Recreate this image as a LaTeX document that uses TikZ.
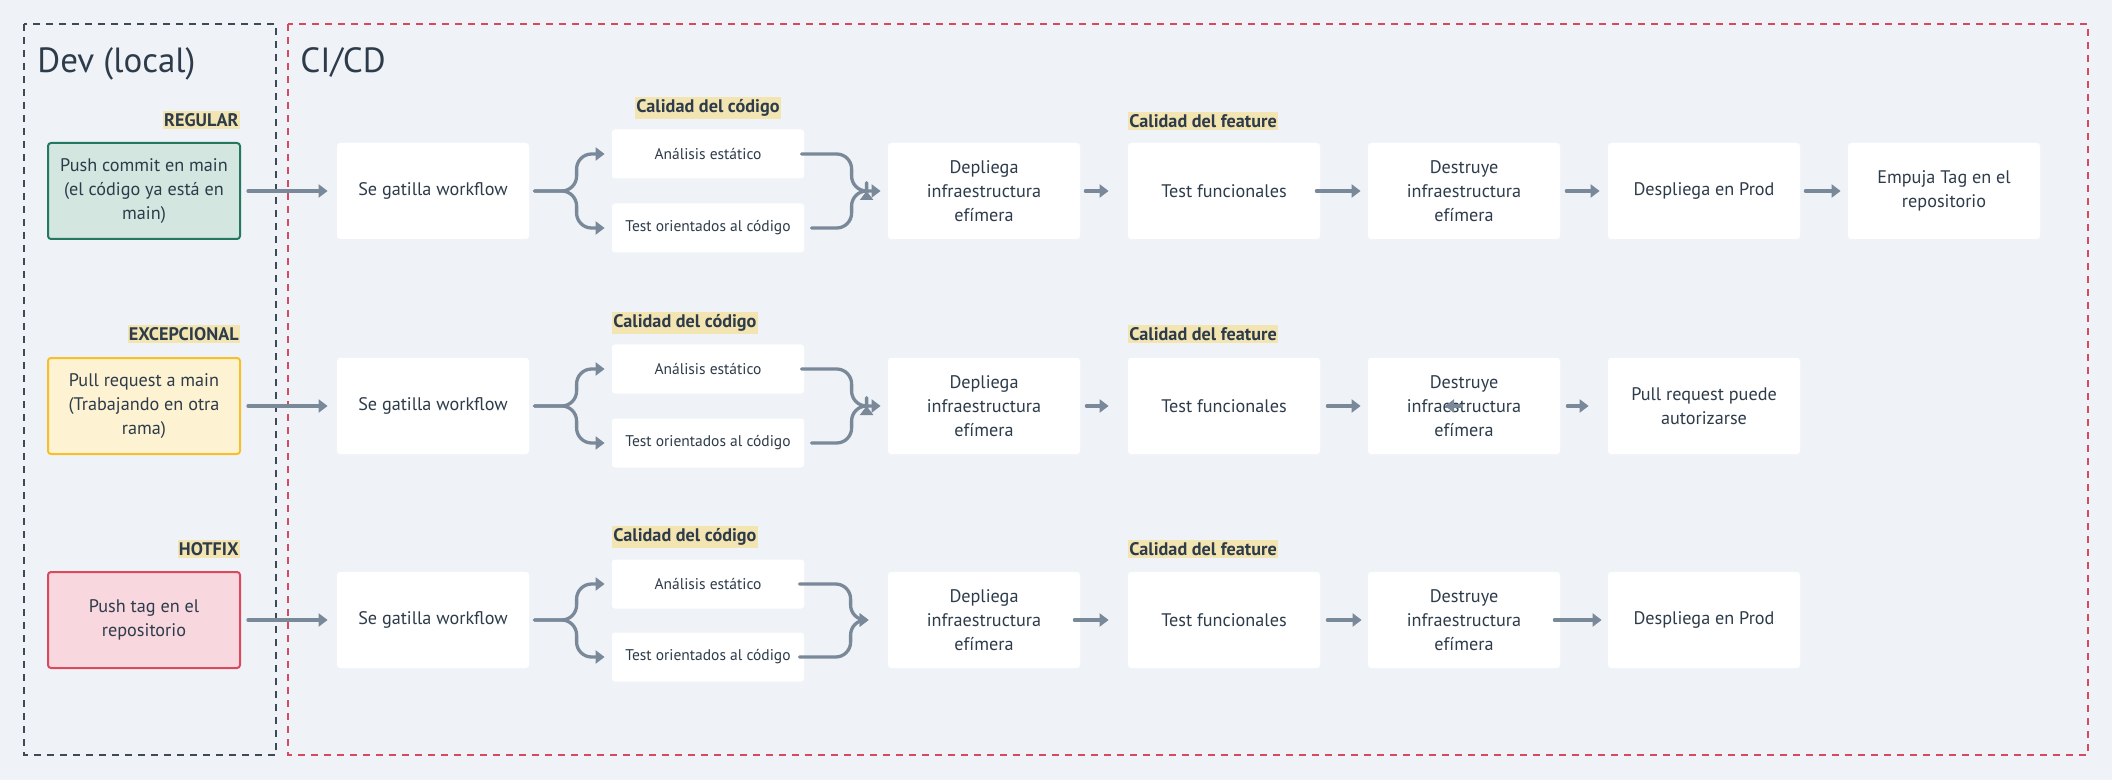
\documentclass[tikz,border=0pt]{standalone}
\usepackage{fontspec}
\setmainfont{PT Sans}
\usetikzlibrary{arrows.meta,calc}
\definecolor{bg}{HTML}{EFF3F7}
\definecolor{txt}{HTML}{2D3B4A}
\definecolor{arrc}{HTML}{7A8999}
\definecolor{hl}{HTML}{F3E5B2}
\definecolor{devline}{HTML}{3F4A56}
\definecolor{ciline}{HTML}{D6495E}
\definecolor{gfill}{HTML}{D3E6E0}
\definecolor{gdraw}{HTML}{23785F}
\definecolor{yfill}{HTML}{FDF2D2}
\definecolor{ydraw}{HTML}{F7C02B}
\definecolor{rfill}{HTML}{F8D8DE}
\definecolor{rdraw}{HTML}{D94A5E}
\begin{document}
\begin{tikzpicture}[x=0.5pt,y=-0.5pt,
  box/.style={draw=none, fill=white, rounded corners=1.5pt, minimum width=96pt, minimum height=48pt, align=center, text=txt, font=\fontsize{9.1}{12.1}\selectfont, inner sep=0pt},
  smallbox/.style={box, minimum height=24.5pt, font=\fontsize{7.75}{9.5}\selectfont},
  devbox/.style={box, line width=1pt},
  hltag/.style={fill=hl, text=txt, font=\bfseries\fontsize{9.1}{10.5}\selectfont, inner xsep=0.5pt, inner ysep=1.2pt},
  arr/.style={draw=arrc, line width=1.65pt, line cap=round, -{Triangle[length=4.5pt,width=6.5pt]}},
  title/.style={anchor=base west, text=txt, font=\fontsize{17.5}{20}\selectfont, inner sep=0pt},
  zone/.style={line width=1pt, dash pattern=on 3.5pt off 3pt}
]
\useasboundingbox (0,0) rectangle (2112,780);
\fill[bg] (0,0) rectangle (2112,780);
\draw[zone, draw=devline] (24,24) rectangle (276,755);
\draw[zone, draw=ciline] (288,24) rectangle (2088,755);
\node[title] (devt) at (37,73) {Dev (local)};
\node[title] (cit) at (300,73) {CI/CD};

% ---------- Row 1 ----------
\node[hltag, anchor=east] (t1) at (240,120) {REGULAR};
\node[devbox, draw=gdraw, fill=gfill] (l1) at (144,191) {Push commit en main\\(el código ya está en\\main)};
\node[box] (se1) at (433,191) {Se gatilla workflow};
\node[smallbox] (an1) at (708,154) {Análisis estático};
\node[smallbox] (to1) at (708,228) {Test orientados al código};
\node[hltag] (cc1) at (708,108) {Calidad del código};
\node[box] (dep1) at (984,191) {Depliega\\infraestructura\\efímera};
\node[box] (tf1) at (1224,191) {Test funcionales};
\node[hltag, anchor=west] (cf1) at (1128,121) {Calidad del feature};
\node[box] (des1) at (1464,191) {Destruye\\infraestructura\\efímera};
\node[box] (pr1) at (1704,191) {Despliega en Prod};
\node[box] (em1) at (1944,191) {Empuja Tag en el\\repositorio};
\draw[arr] ([xshift=3.5pt]l1.east) -- ([xshift=-4.5pt]se1.west);
\draw[arr, rounded corners=7.5pt] ([xshift=2.5pt]se1.east) -| ([xshift=-17.5pt]an1.west) -- ([xshift=-3.5pt]an1.west);
\draw[arr, rounded corners=7.5pt] ([xshift=2.5pt]se1.east) -| ([xshift=-17.5pt]to1.west) -- ([xshift=-3.5pt]to1.west);
\draw[arr, rounded corners=7.5pt] ([xshift=-1.5pt]an1.east) -| ([xshift=-18pt]dep1.west) -- ([xshift=-10.5pt]dep1.west);
\draw[arr, rounded corners=7.5pt] ([xshift=3.5pt]to1.east) -| ([xshift=-18pt]dep1.west) -- ([xshift=-3.5pt]dep1.west);
\draw[arr] ([xshift=2.5pt]dep1.east) -- ([xshift=-9.5pt]tf1.west);
\draw[arr] ([xshift=-2pt]tf1.east) -- ([xshift=-3.5pt]des1.west);
\draw[arr] ([xshift=3pt]des1.east) -- ([xshift=-4pt]pr1.west);
\draw[arr] ([xshift=2.5pt]pr1.east) -- ([xshift=-3.5pt]em1.west);

% ---------- Row 2 ----------
\node[hltag, anchor=east] (t2) at (240,334) {EXCEPCIONAL};
\node[devbox, draw=ydraw, fill=yfill] (l2) at (144,406) {Pull request a main\\(Trabajando en otra\\rama)};
\node[box] (se2) at (433,406) {Se gatilla workflow};
\node[smallbox] (an2) at (708,369) {Análisis estático};
\node[smallbox] (to2) at (708,443) {Test orientados al código};
\node[hltag, anchor=west] (cc2) at (612,323) {Calidad del código};
\node[box] (dep2) at (984,406) {Depliega\\infraestructura\\efímera};
\node[box] (tf2) at (1224,406) {Test funcionales};
\node[hltag, anchor=west] (cf2) at (1128,334) {Calidad del feature};
\node[box] (des2) at (1464,406) {Destruye\\infraestructura\\efímera};
\node[box] (pu2) at (1704,406) {Pull request puede\\autorizarse};
\draw[arr] ([xshift=3.5pt]l2.east) -- ([xshift=-4.5pt]se2.west);
\draw[arr, rounded corners=7.5pt] ([xshift=2.5pt]se2.east) -| ([xshift=-17.5pt]an2.west) -- ([xshift=-3.5pt]an2.west);
\draw[arr, rounded corners=7.5pt] ([xshift=2.5pt]se2.east) -| ([xshift=-17.5pt]to2.west) -- ([xshift=-3.5pt]to2.west);
\draw[arr, rounded corners=7.5pt] ([xshift=-1.5pt]an2.east) -| ([xshift=-18pt]dep2.west) -- ([xshift=-10.5pt]dep2.west);
\draw[arr, rounded corners=7.5pt] ([xshift=3.5pt]to2.east) -| ([xshift=-18pt]dep2.west) -- ([xshift=-3.5pt]dep2.west);
\draw[arr] ([xshift=3pt]dep2.east) -- ([xshift=-9.5pt]tf2.west);
\draw[arr] ([xshift=3.5pt]tf2.east) -- ([xshift=-3.5pt]des2.west);
\draw[arr] ([xshift=3.5pt]des2.east) -- ([xshift=-9.5pt]pu2.west);
\coordinate (s2a) at (1461,406);
\coordinate (s2b) at (1445,406);
\draw[arr] (s2a) -- (s2b);

% ---------- Row 3 ----------
\node[hltag, anchor=east] (t3) at (240,549) {HOTFIX};
\node[devbox, draw=rdraw, fill=rfill] (l3) at (144,620) {Push tag en el\\repositorio};
\node[box] (se3) at (433,620) {Se gatilla workflow};
\node[smallbox] (an3) at (708,584) {Análisis estático};
\node[smallbox] (to3) at (708,657) {Test orientados al código};
\node[hltag, anchor=west] (cc3) at (612,537) {Calidad del código};
\node[box] (dep3) at (984,620) {Depliega\\infraestructura\\efímera};
\node[box] (tf3) at (1224,620) {Test funcionales};
\node[hltag, anchor=west] (cf3) at (1128,549) {Calidad del feature};
\node[box] (des3) at (1464,620) {Destruye\\infraestructura\\efímera};
\node[box] (pr3) at (1704,620) {Despliega en Prod};
\draw[arr] ([xshift=3.5pt]l3.east) -- ([xshift=-4.5pt]se3.west);
\draw[arr, rounded corners=7.5pt] ([xshift=2.5pt]se3.east) -| ([xshift=-17.5pt]an3.west) -- ([xshift=-3.5pt]an3.west);
\draw[arr, rounded corners=7.5pt] ([xshift=2.5pt]se3.east) -| ([xshift=-17.5pt]to3.west) -- ([xshift=-3.5pt]to3.west);
\draw[arr, rounded corners=7.5pt] ([xshift=-2.5pt]an3.east) -| ([xshift=-18.5pt]dep3.west) -- ([xshift=-9.5pt]dep3.west);
\draw[arr, rounded corners=7.5pt] ([xshift=-2.5pt]to3.east) -| ([xshift=-18.5pt]dep3.west) -- ([xshift=-9.5pt]dep3.west);
\draw[arr] ([xshift=-3pt]dep3.east) -- ([xshift=-9.5pt]tf3.west);
\draw[arr] ([xshift=3.5pt]tf3.east) -- ([xshift=-3pt]des3.west);
\draw[arr] ([xshift=-3pt]des3.east) -- ([xshift=-3pt]pr3.west);
\end{tikzpicture}
\end{document}
